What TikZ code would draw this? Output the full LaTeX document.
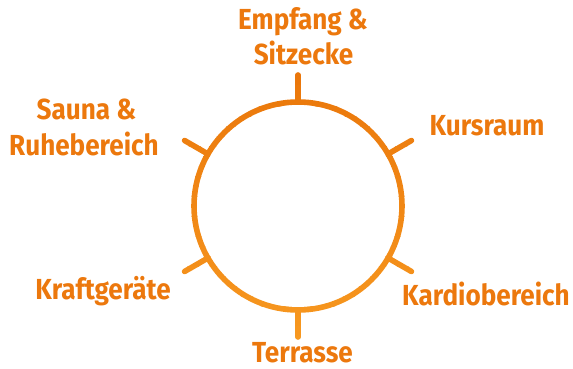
\documentclass[tikz,border=0pt]{standalone}
\usepackage{fontspec}
\setmainfont{Fira Sans}[UprightFont=* Bold, FakeStretch=0.9]
\definecolor{ctop}{HTML}{EA760A}
\definecolor{cbot}{HTML}{F89A21}
\definecolor{ctext}{HTML}{EC780D}
\tikzset{
  lbl/.style={text=ctext, inner sep=0pt, anchor=base, font=\fontsize{29}{34}\selectfont},
  ring/.style={line width=5.6pt, line cap=round}
}
\begin{document}
\begin{tikzpicture}[x=1pt,y=-1pt]
\useasboundingbox (0,0) rectangle (573,369);
\coordinate (c) at (298,206);
\foreach \i in {0,...,28}{
  \pgfmathtruncatemacro{\pct}{100*\i/28}
  \begin{scope}
    \clip (0,{66+\i*10}) rectangle (573,{76.6+\i*10});
    \draw[ring, color=cbot!\pct!ctop] (c) circle[radius=104pt];
    \foreach \a in {90,30,-30,-90,-150,150}{
      \draw[ring, color=cbot!\pct!ctop] ([shift={(\a:104)}]c) -- ([shift={(\a:131)}]c);
    }
  \end{scope}
}
\node[lbl] (emp1) at (303,30) {Empfang \&};
\node[lbl] (emp2) at (303.5,64) {Sitzecke};
\node[lbl] (sau1) at (86.5,119) {Sauna \&};
\node[lbl] (sau2) at (84,155) {Ruhebereich};
\node[lbl] (kurs) at (487,135) {Kursraum};
\node[lbl] (kraft) at (103,299) {Kraftgeräte};
\node[lbl] (kardio) at (486,305) {Kardiobereich};
\node[lbl] (terr) at (302.5,362.5) {Terrasse};
\end{tikzpicture}
\end{document}
